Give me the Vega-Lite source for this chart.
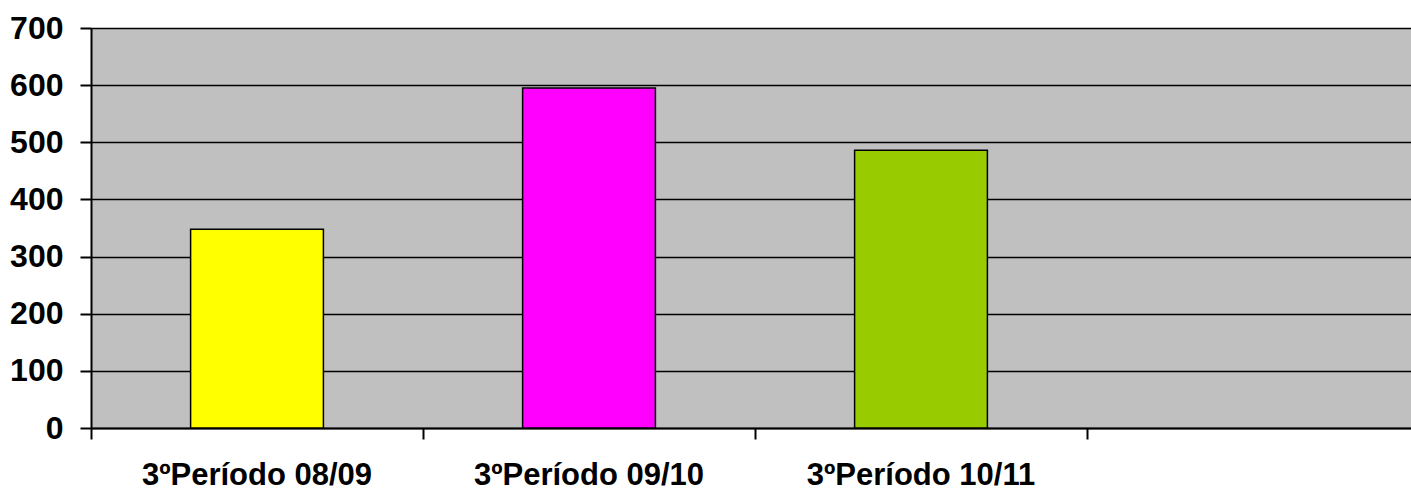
{
  "$schema": "https://vega.github.io/schema/vega-lite/v6.json",
  "autosize": "none",
  "padding": {"left": 91, "top": 28, "right": 0, "bottom": 63},
  "width": 1328,
  "height": 400,
  "background": "white",
  "view": {"fill": "#C0C0C0", "stroke": null},
  "data": {
    "values": [
      {"periodo": "3ºPeríodo 08/09", "valor": 348},
      {"periodo": "3ºPeríodo 09/10", "valor": 595},
      {"periodo": "3ºPeríodo 10/11", "valor": 486}
    ]
  },
  "mark": {"type": "bar", "stroke": "black", "strokeWidth": 1.5, "width": {"band": 0.4}},
  "encoding": {
    "x": {
      "field": "periodo",
      "type": "nominal",
      "sort": null,
      "scale": {"domain": ["3ºPeríodo 08/09", "3ºPeríodo 09/10", "3ºPeríodo 10/11", " "], "paddingInner": 0, "paddingOuter": 0},
      "axis": {
        "title": null,
        "labelAngle": 0,
        "labelFont": "Liberation Sans",
        "labelFontSize": 31,
        "labelFontWeight": "bold",
        "labelColor": "black",
        "labelPadding": 21,
        "labelLimit": 0,
        "bandPosition": 0,
        "tickSize": 11,
        "tickColor": "black",
        "tickWidth": 2,
        "domainColor": "black",
        "domainWidth": 2,
        "grid": false
      }
    },
    "y": {
      "field": "valor",
      "type": "quantitative",
      "scale": {"domain": [0, 700], "nice": false},
      "axis": {
        "title": null,
        "values": [0, 100, 200, 300, 400, 500, 600, 700],
        "labelFont": "Liberation Sans",
        "labelFontSize": 32,
        "labelFontWeight": "bold",
        "labelColor": "black",
        "labelPadding": 17,
        "tickSize": 11,
        "tickColor": "black",
        "tickWidth": 2,
        "domainColor": "black",
        "domainWidth": 2,
        "grid": true,
        "gridColor": "black",
        "gridWidth": 1.5
      }
    },
    "color": {
      "field": "periodo",
      "type": "nominal",
      "scale": {"domain": ["3ºPeríodo 08/09", "3ºPeríodo 09/10", "3ºPeríodo 10/11"], "range": ["#FFFF00", "#FF00FF", "#99CC00"]},
      "legend": null
    }
  }
}
